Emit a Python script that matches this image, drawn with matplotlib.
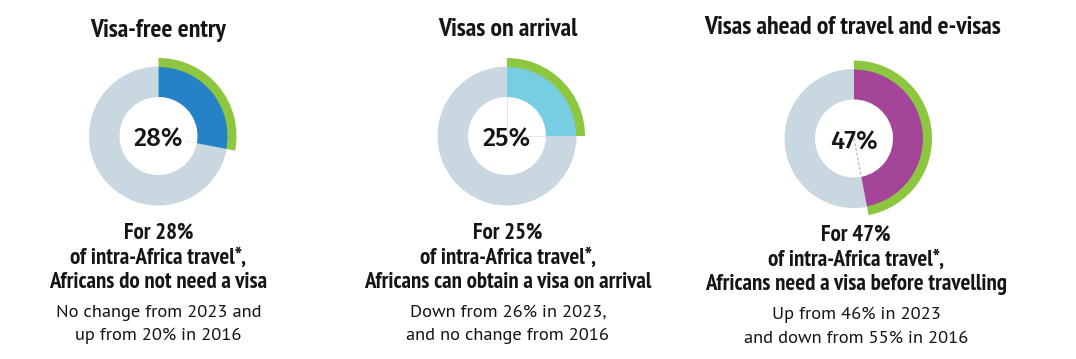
import matplotlib
matplotlib.use("Agg")
import matplotlib.pyplot as plt
from matplotlib.patches import Wedge
import numpy as np

# ---- data ----
categories = ["Visa-free entry", "Visas on arrival", "Visas ahead of travel and e-visas"]
shares = [28, 25, 47]
headline_2 = ["of intra-Africa travel*,", "of intra-Africa travel*,", "of intra-Africa travel*,"]
headline_3 = ["Africans do not need a visa",
              "Africans can obtain a visa on arrival",
              "Africans need a visa before travelling"]
note_1 = ["No change from 2023 and", "Down from 26% in 2023,", "Up from 46% in 2023"]
note_2 = ["up from 20% in 2016", "and no change from 2016", "and down from 55% in 2016"]

# ---- style / layout ----
seg_colors = ["#2582C7", "#77CEE3", "#A5459A"]
rest_color = "#C9D7E0"
green = "#8DC63F"
text_color = "#151515"
centers_x = [158.5, 507.0, 854.0]
centers_y = [136.0, 136.0, 138.5]
text_x = [158.5, 508.0, 856.0]
title_base = [36.5, 36.5, 34.0]
body_base = [239.0, 239.0, 241.0]
r_out, r_in, r_green = 69.5, 39.0, 78.0

narrow = ["PT Sans Narrow", "Roboto Condensed", "Liberation Sans", "DejaVu Sans"]
regular = ["PT Sans", "Liberation Sans", "DejaVu Sans"]
medium = ["Fira Sans", "Liberation Sans", "DejaVu Sans"]

fig = plt.figure(figsize=(10.76, 3.59), dpi=100)
ax = fig.add_axes([0, 0, 1, 1])
ax.set_xlim(0, 1076)
ax.set_ylim(359, 0)
ax.axis("off")

for i, cat in enumerate(categories):
    cx, cy = centers_x[i], centers_y[i]
    p = shares[i] / 100.0
    t_end = -90 + p * 360
    ax.add_patch(Wedge((cx, cy), r_out, t_end, 270, width=r_out - r_in,
                       facecolor=rest_color, edgecolor="none"))
    ax.add_patch(Wedge((cx, cy), r_out, -90, t_end, width=r_out - r_in,
                       facecolor=seg_colors[i], edgecolor="none"))
    ax.add_patch(Wedge((cx, cy), r_green, -90, t_end, width=r_green - r_out + 0.5,
                       facecolor=green, edgecolor="none"))
    for ang in ([-90, t_end] if i == 1 else [t_end]):
        a = np.deg2rad(ang)
        ax.plot([cx, cx + r_in * np.cos(a)], [cy, cy + r_in * np.sin(a)],
                color=seg_colors[i] if i == 2 else "#C9D7E0", lw=0.7,
                ls=(0, (3, 2)) if i != 1 else "-", alpha=0.6, zorder=3)
    ax.text(cx, cy + 10.5, f"{shares[i]}%", ha="center", va="baseline",
            fontsize=18.5, fontweight=500, family=medium, color=text_color, zorder=4)
    ax.text(text_x[i] - (3 if i == 2 else 0), title_base[i], cat, ha="center",
            va="baseline", fontsize=18.5, fontweight="bold", family=narrow,
            color=text_color)
    yb = body_base[i]
    for k, line in enumerate([f"For {shares[i]}%", headline_2[i], headline_3[i]]):
        ax.text(text_x[i], yb + 24.5 * k, line, ha="center", va="baseline",
                fontsize=16.5, fontweight="bold", family=narrow, color=text_color)
    ax.text(text_x[i], yb + 78, note_1[i], ha="center", va="baseline",
            fontsize=13.3, family=regular, color=text_color)
    ax.text(text_x[i], yb + 101.5, note_2[i], ha="center", va="baseline",
            fontsize=13.3, family=regular, color=text_color)

fig.savefig("out.png", dpi=100, facecolor="white")
